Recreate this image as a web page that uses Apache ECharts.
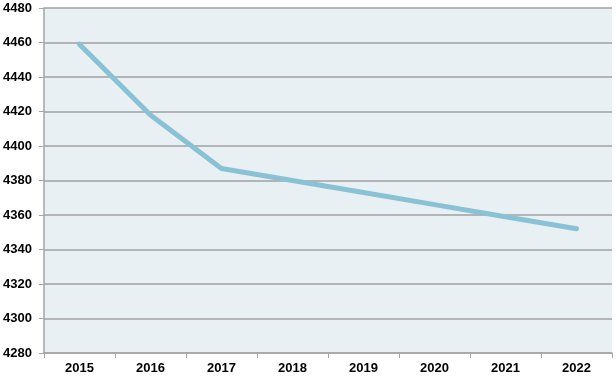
<!DOCTYPE html>
<html><head><meta charset="utf-8">
<script src="https://cdn.jsdelivr.net/npm/echarts@6/dist/echarts.min.js"></script>
<style>html,body{margin:0;padding:0;background:#fff}#c{width:616px;height:379px}</style>
</head><body><div id="c"></div>
<script>
const categories = ['2015','2016','2017','2018','2019','2020','2021','2022'];
const values = [4459, 4418, 4387, 4380, 4373, 4366, 4359, 4352];
const yMin = 4280, yMax = 4480, yStep = 20;

const chart = echarts.init(document.getElementById('c'), null, {renderer:'canvas'});
chart.setOption({
  animation:false,
  grid:{left:43,right:4,top:8,bottom:26,show:true,backgroundColor:'#e8f0f4',borderWidth:0},
  xAxis:{type:'category',data:categories,boundaryGap:true,
    axisLine:{show:true,lineStyle:{color:'#a6a6a6',width:1.5}},
    axisTick:{show:true,length:5,lineStyle:{color:'#a6a6a6'}},
    axisLabel:{color:'#000',fontFamily:'Liberation Sans, Arial',fontWeight:'bold',fontSize:13,margin:9},
    splitLine:{show:false}},
  yAxis:{type:'value',min:yMin,max:yMax,interval:yStep,
    axisLine:{show:true,lineStyle:{color:'#a6a6a6',width:1.5}},
    axisTick:{show:true,length:5,lineStyle:{color:'#a6a6a6'}},
    axisLabel:{color:'#000',fontFamily:'Liberation Sans, Arial',fontWeight:'bold',fontSize:13,margin:12,
      formatter:v=>String(v)},
    splitLine:{show:true,lineStyle:{color:'#a0a0a0',width:1.5}}},
  series:[{type:'line',data:values,showSymbol:false,symbol:'none',
    lineStyle:{color:'#8ac2d5',width:5,cap:'round',join:'round'}}]
});
</script></body></html>
